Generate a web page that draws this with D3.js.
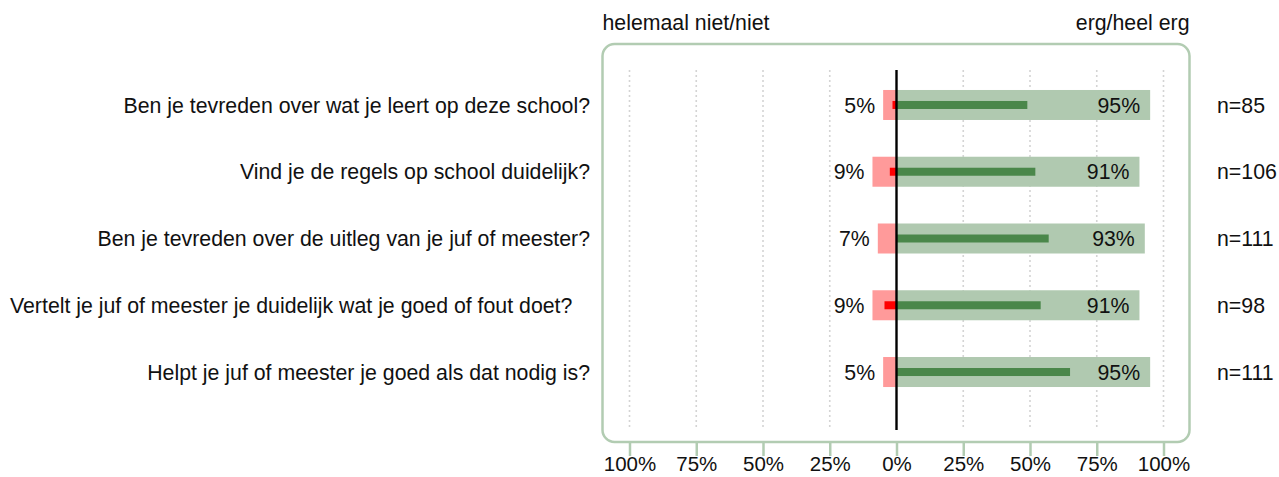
<!DOCTYPE html>
<html>
<head>
<meta charset="utf-8">
<script src="https://cdn.jsdelivr.net/npm/d3@7"></script>
<style>
  html, body { margin: 0; padding: 0; background: #fff; }
  svg text { font-family: "Liberation Sans", Arial, Helvetica, sans-serif; fill: #111; }
</style>
</head>
<body>
<svg id="chart" width="1279" height="477"></svg>
<script>
// ---- data ----
const questions = [
  "Ben je tevreden over wat je leert op deze school?",
  "Vind je de regels op school duidelijk?",
  "Ben je tevreden over de uitleg van je juf of meester?",
  "Vertelt je juf of meester je duidelijk wat je goed of fout doet?",
  "Helpt je juf of meester je goed als dat nodig is?"
];
const pctNegative = [5, 9, 7, 9, 5];          // helemaal niet/niet
const pctPositive = [95, 91, 93, 91, 95];     // erg/heel erg
const pctStrongNegative = [1.5, 2.5, 0, 4.5, 0]; // helemaal niet
const pctStrongPositive = [49, 52, 57, 54, 65];  // heel erg
const nValues = [85, 106, 111, 98, 111];
const tickValues = [-100, -75, -50, -25, 0, 25, 50, 75, 100];
const tickLabels = ["100%", "75%", "50%", "25%", "0%", "25%", "50%", "75%", "100%"];
const leftHeader = "helemaal niet/niet";
const rightHeader = "erg/heel erg";

// ---- layout ----
const svg = d3.select("#chart");
const x = d3.scaleLinear().domain([-100, 100]).range([629.5, 1163.5]);
const y = d3.scaleBand().domain(questions).range([71.6, 405.4]).padding(0);
const barH = 30, innerH = 8;
const plotTop = 70, plotBottom = 430;
const box = { x0: 602.5, y0: 44, x1: 1189.5, y1: 442, r: 12 };
const boxColor = "#b2ccb2";
const fontSize = 21.3;

const rows = questions.map((q, i) => ({
  q, neg: pctNegative[i], pos: pctPositive[i],
  sneg: pctStrongNegative[i], spos: pctStrongPositive[i], n: nValues[i]
}));

// panel box
svg.append("rect")
  .attr("x", box.x0).attr("y", box.y0)
  .attr("width", box.x1 - box.x0).attr("height", box.y1 - box.y0)
  .attr("rx", box.r).attr("ry", box.r)
  .attr("fill", "none").attr("stroke", boxColor).attr("stroke-width", 2.5);

// dotted gridlines
svg.append("g").selectAll("line")
  .data(tickValues.filter(v => v !== 0))
  .join("line")
  .attr("x1", d => x(d)).attr("x2", d => x(d))
  .attr("y1", plotTop).attr("y2", plotBottom)
  .attr("stroke", "#d4d4d4").attr("stroke-width", 1.6)
  .attr("stroke-dasharray", "2,3");

// bottom axis
const axis = d3.axisBottom(x).tickValues(tickValues)
  .tickFormat((d, i) => tickLabels[i]).tickSize(14).tickSizeOuter(0);
const gAxis = svg.append("g").attr("transform", `translate(0,${box.y1})`).call(axis);
gAxis.select(".domain").remove();
gAxis.selectAll(".tick line").attr("stroke", boxColor).attr("stroke-width", 2.5);
gAxis.selectAll(".tick text")
  .attr("y", 22).attr("dy", "0.36em")
  .style("font-size", "20.5px")
  .style("font-family", '"Liberation Sans", Arial, sans-serif')
  .attr("fill", "#111");

// headers
svg.append("text").attr("x", box.x0).attr("y", 30)
  .attr("text-anchor", "start").style("font-size", fontSize + "px").text(leftHeader);
svg.append("text").attr("x", box.x1).attr("y", 30)
  .attr("text-anchor", "end").style("font-size", fontSize + "px").text(rightHeader);

const cy = d => y(d.q) + y.bandwidth() / 2;

// light bars
svg.append("g").selectAll("rect").data(rows).join("rect")
  .attr("x", d => x(-d.neg)).attr("width", d => x(0) - x(-d.neg))
  .attr("y", d => cy(d) - barH / 2).attr("height", barH)
  .attr("fill", "#ff9a9a");
svg.append("g").selectAll("rect").data(rows).join("rect")
  .attr("x", x(0)).attr("width", d => x(d.pos) - x(0))
  .attr("y", d => cy(d) - barH / 2).attr("height", barH)
  .attr("fill", "#b0c9b0");

// strong bars
svg.append("g").selectAll("rect").data(rows).join("rect")
  .attr("x", d => x(-d.sneg)).attr("width", d => x(0) - x(-d.sneg))
  .attr("y", d => cy(d) - innerH / 2).attr("height", innerH)
  .attr("fill", "#ff0000");
svg.append("g").selectAll("rect").data(rows).join("rect")
  .attr("x", x(0)).attr("width", d => x(d.spos) - x(0))
  .attr("y", d => cy(d) - innerH / 2).attr("height", innerH)
  .attr("fill", "#4a874a");

// zero line
svg.append("line")
  .attr("x1", x(0)).attr("x2", x(0)).attr("y1", plotTop).attr("y2", plotBottom)
  .attr("stroke", "#000").attr("stroke-width", 2.4);

// value labels
svg.append("g").selectAll("text").data(rows).join("text")
  .attr("x", d => x(-d.neg) - 8).attr("y", d => cy(d)).attr("dy", "0.36em")
  .attr("text-anchor", "end").style("font-size", fontSize + "px")
  .text(d => d.neg + "%");
svg.append("g").selectAll("text").data(rows).join("text")
  .attr("x", d => x(d.pos) - 10).attr("y", d => cy(d)).attr("dy", "0.36em")
  .attr("text-anchor", "end").style("font-size", fontSize + "px")
  .text(d => d.pos + "%");

// n labels
svg.append("g").selectAll("text").data(rows).join("text")
  .attr("x", 1217).attr("y", d => cy(d)).attr("dy", "0.36em")
  .attr("text-anchor", "start").style("font-size", fontSize + "px")
  .text(d => "n=" + d.n);

// question labels: right aligned; a label too long for the margin starts at the left edge
svg.append("g").selectAll("text").data(rows).join("text")
  .attr("y", d => cy(d)).attr("dy", "0.36em")
  .style("font-size", fontSize + "px")
  .text(d => d.q)
  .each(function () {
    const w = this.getComputedTextLength();
    const right = 590, edge = 10;
    const left = (right - w < 30) ? edge : right - w;
    d3.select(this).attr("x", left).attr("text-anchor", "start");
  });
</script>
</body>
</html>
